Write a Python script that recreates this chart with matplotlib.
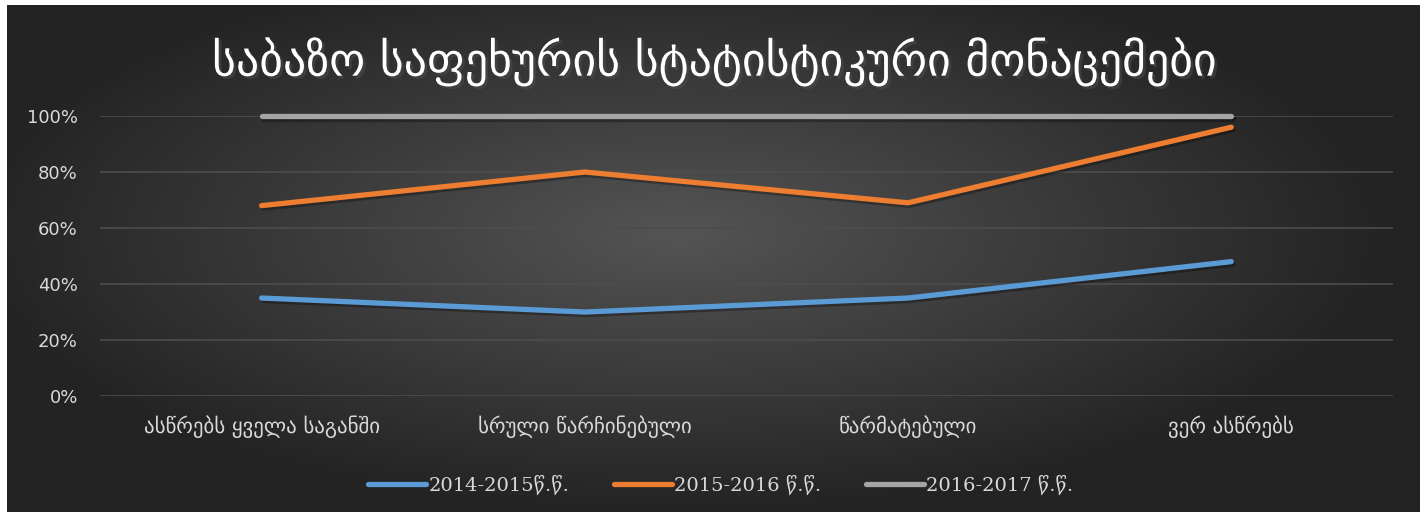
import numpy as np
import matplotlib.pyplot as plt
import matplotlib.patheffects as pe

categories = ['ასწრებს ყველა საგანში', 'სრული წარჩინებული', 'წარმატებული', 'ვერ ასწრებს']
series_names = ['2014-2015წ.წ.', '2015-2016 წ.წ.', '2016-2017 წ.წ.']
s2014 = [0.35, 0.30, 0.35, 0.48]
s2015 = [0.68, 0.80, 0.69, 0.96]
s2016 = [1.00, 1.00, 1.00, 1.00]
yticks = [0, 0.2, 0.4, 0.6, 0.8, 1.0]
title = 'საბაზო საფეხურის სტატისტიკური მონაცემები'

colors = ['#5B9BD5', '#ED7D31', '#A5A5A5']

fig = plt.figure(figsize=(14.27, 5.17), dpi=100, facecolor='white')

# dark radial background
bg = fig.add_axes([0.005, 0.01, 0.99, 0.98])
gx, gy = np.meshgrid(np.linspace(-1, 1, 400), np.linspace(-1, 1, 200))
r = np.sqrt(((gx + 0.05) / 1.0) ** 2 + ((gy - 0.1) / 1.1) ** 2)
shade = np.clip(0.33 - 0.19 * r, 0.14, 0.33)
bg.imshow(np.dstack([shade] * 3), aspect='auto', extent=[0, 1, 0, 1], origin='lower')
bg.set_axis_off()

ax = fig.add_axes([0.0701, 0.234, 0.906, 0.5416])
ax.set_facecolor('none')
x = np.arange(len(categories))
shadow = [pe.SimpleLineShadow(offset=(1.2, -1.8), shadow_color='black', alpha=0.3), pe.Normal()]
for vals, name, c in zip([s2014, s2015, s2016], series_names, colors):
    ax.plot(x, vals, color=c, lw=3.8, solid_capstyle='round', solid_joinstyle='round',
            label=name, clip_on=False, path_effects=shadow)

ax.set_xlim(-0.5, len(categories) - 0.5)
ax.set_ylim(0, 1)
ax.set_yticks(yticks)
ax.set_yticklabels([f'{int(round(v * 100))}%' for v in yticks], color='#D9D9D9', fontsize=13)
ax.set_xticks(x)
ax.set_xticklabels(categories, color='#D9D9D9', fontsize=15)
ax.tick_params(axis='y', length=0, pad=16)
ax.tick_params(axis='x', length=0, pad=14)
ax.grid(axis='y', color='#4D4D4D', lw=1.2)
ax.set_axisbelow(True)
for s in ax.spines.values():
    s.set_visible(False)

fig.text(0.501, 0.88, title, ha='center', va='center', color='white', fontsize=33,
         path_effects=[pe.withSimplePatchShadow(offset=(2, -2), alpha=0.5)])

leg = fig.legend(loc='center', bbox_to_anchor=(0.505, 0.062), ncol=3, frameon=False,
                 handlelength=3.0, columnspacing=2.3, handletextpad=0.1,
                 prop={'family': ['DejaVu Serif', 'DejaVu Sans'], 'size': 14})
for t in leg.get_texts():
    t.set_color('#D9D9D9')
for h in leg.get_lines():
    h.set_path_effects([])

fig.savefig('out.png', dpi=100, facecolor='white')
